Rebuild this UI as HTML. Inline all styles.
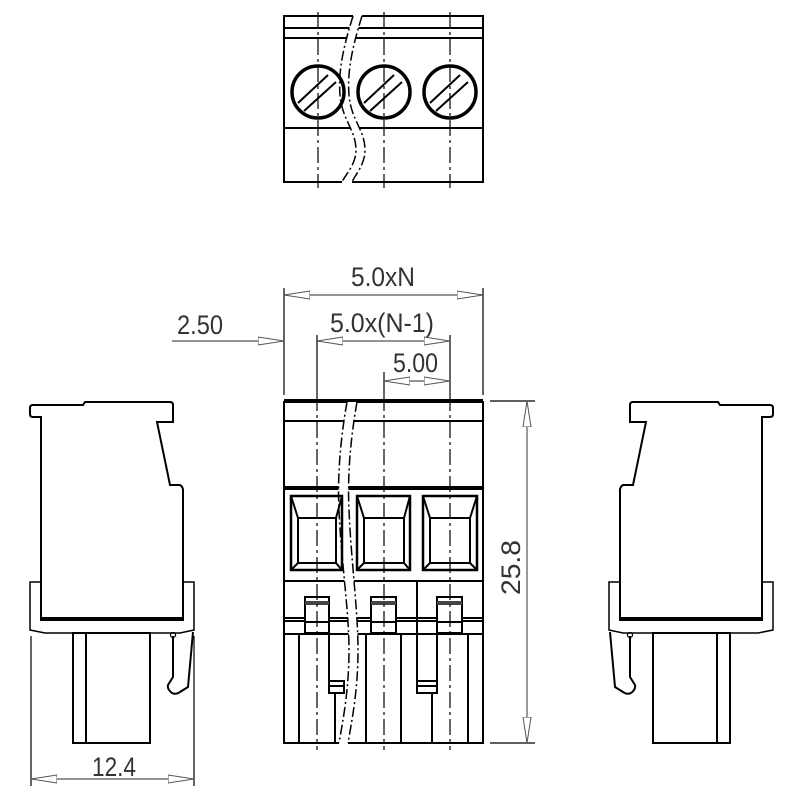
<!DOCTYPE html>
<html><head><meta charset="utf-8"><style>html,body{margin:0;padding:0;background:#fff}svg{display:block}</style></head>
<body>
<svg width="800" height="800" viewBox="0 0 800 800" xmlns="http://www.w3.org/2000/svg">
<defs>
<marker id="a" viewBox="0 0 26 10" refX="26" refY="5" markerWidth="26" markerHeight="10" markerUnits="userSpaceOnUse" orient="auto-start-reverse">
<path d="M0,1 L26,5 L0,9 Z" fill="#fff" stroke="#555" stroke-width="1"/>
</marker>
</defs>
<g fill="none" stroke="#000" stroke-linecap="butt">
<!-- TOP VIEW -->
<g stroke-width="2">
<path d="M353,16 L284,16 L284,182 L342,182"/>
<path d="M362,16 L483,16 L483,182 L352,182"/>
<line x1="284" y1="28" x2="483" y2="28"/>
<line x1="284" y1="38" x2="483" y2="38"/>
<line x1="284" y1="128" x2="483" y2="128"/>
</g>
<path d="M353,16 C344,45 338,70 340,95 C342,120 356,130 356,150 C356,165 345,175 342,182 L352,182 C355,175 365,165 365,150 C365,130 351,120 349,95 C347,70 353,45 362,16 Z" fill="#fff" stroke="none"/>
<g stroke-width="1.5" stroke-dasharray="10,3,2,3">
<path d="M353,16 C344,45 338,70 340,95 C342,120 356,130 356,150 C356,165 345,175 342,182"/>
<path d="M362,16 C353,45 347,70 349,95 C351,120 365,130 365,150 C365,165 355,175 352,182"/>
</g>
<g stroke-width="3.5">
<circle cx="318" cy="92" r="26"/><circle cx="384" cy="92" r="26"/><circle cx="450" cy="92" r="26"/>
</g>
<g stroke-width="2">
<line x1="298" y1="103" x2="328" y2="75"/><line x1="304" y1="111" x2="336" y2="82"/>
<line x1="364" y1="103" x2="394" y2="75"/><line x1="370" y1="111" x2="402" y2="82"/>
<line x1="430" y1="103" x2="460" y2="75"/><line x1="436" y1="111" x2="468" y2="82"/>
</g>
<g stroke-width="1.2" stroke-dasharray="16,4,3,4">
<line x1="318" y1="12" x2="318" y2="188"/><line x1="384" y1="12" x2="384" y2="188"/><line x1="450" y1="12" x2="450" y2="188"/>
</g>

<!-- FRONT VIEW -->
<g stroke-width="2">
<path d="M347,402 L284,402 L284,743 L339,743"/>
<path d="M357,402 L483,402 L483,743 L348,743"/>
<rect x="284" y="399" width="199" height="3" fill="#000" stroke="none"/>
<line x1="284" y1="421" x2="483" y2="421"/>
<rect x="284" y="486" width="199" height="4" fill="#000" stroke="none"/>
<line x1="284" y1="581" x2="483" y2="581"/>
<line x1="284" y1="634" x2="483" y2="634"/>
<path d="M284,618 L483,618 M284,621 L483,621"/>
</g>
<path d="M347,402 C342,430 337,470 339,510 C341,560 349,610 349,650 C349,690 343,720 339,743 L348,743 C352,720 358,690 358,650 C358,610 351,560 349,510 C347,470 352,430 357,402 Z" fill="#fff" stroke="none"/>
<g stroke-width="2">
<!-- windows -->
<rect x="291" y="496" width="51" height="74" stroke-width="2.5"/>
<rect x="298" y="518" width="38" height="45"/>
<path d="M291,496 L298,518 M342,496 L336,518 M291,570 L298,563 M342,570 L336,563"/>
<rect x="357" y="496" width="53" height="74" stroke-width="2.5"/>
<rect x="364" y="518" width="40" height="45"/>
<path d="M357,496 L364,518 M410,496 L404,518 M357,570 L364,563 M410,570 L404,563"/>
<rect x="423" y="496" width="54" height="74" stroke-width="2.5"/>
<rect x="430" y="518" width="40" height="45"/>
<path d="M423,496 L430,518 M477,496 L470,518 M423,570 L430,563 M477,570 L470,563"/>
<!-- latches -->
<rect x="305" y="597" width="24" height="36" fill="#fff"/>
<rect x="371" y="597" width="25" height="36" fill="#fff"/>
<rect x="437" y="597" width="25" height="36" fill="#fff"/>
<rect x="305" y="601" width="24" height="4" fill="#444" stroke="none"/>
<rect x="371" y="601" width="25" height="4" fill="#444" stroke="none"/>
<rect x="437" y="601" width="25" height="4" fill="#444" stroke="none"/>
<line x1="305" y1="622" x2="329" y2="622"/><line x1="371" y1="622" x2="396" y2="622"/><line x1="437" y1="622" x2="462" y2="622"/>
<line x1="417" y1="581" x2="417" y2="693"/>
<!-- bottom verticals -->
<line x1="299" y1="634" x2="299" y2="743"/>
<line x1="329" y1="634" x2="329" y2="693"/>
<rect x="329" y="681" width="15" height="12" fill="#fff"/>
<line x1="329" y1="686" x2="344" y2="686"/>
<line x1="335" y1="693" x2="335" y2="743"/>
<line x1="366" y1="634" x2="366" y2="743"/>
<line x1="401" y1="634" x2="401" y2="743"/>
<line x1="437" y1="634" x2="437" y2="681"/>
<rect x="417" y="681" width="20" height="12" fill="#fff"/>
<line x1="417" y1="686" x2="437" y2="686"/>
<line x1="432" y1="693" x2="432" y2="743"/>
<line x1="468" y1="634" x2="468" y2="743"/>
</g>
<g stroke-width="1.5" stroke-dasharray="10,3,2,3">
<path d="M347,402 C342,430 337,470 339,510 C341,560 349,610 349,650 C349,690 343,720 339,743"/>
<path d="M357,402 C352,430 347,470 349,510 C351,560 358,610 358,650 C358,690 352,720 348,743"/>
</g>
<g stroke-width="1.2" stroke-dasharray="16,4,3,4">
<line x1="317" y1="395" x2="317" y2="750"/><line x1="384" y1="395" x2="384" y2="750"/><line x1="450" y1="395" x2="450" y2="750"/>
</g>

<!-- DIMENSIONS -->
<g stroke="#000" stroke-width="1.2">
<line x1="284" y1="288" x2="284" y2="395"/>
<line x1="483" y1="288" x2="483" y2="395"/>
<line x1="317" y1="335" x2="317" y2="395"/>
<line x1="450" y1="335" x2="450" y2="395"/>
<line x1="384" y1="372" x2="384" y2="395"/>
<line x1="490" y1="401" x2="535" y2="401"/>
<line x1="490" y1="743" x2="535" y2="743"/>
<line x1="31" y1="636" x2="31" y2="786"/>
<line x1="194" y1="636" x2="194" y2="786"/>
</g>
<g stroke="#555" stroke-width="1.2">
<line x1="284" y1="295" x2="483" y2="295" marker-start="url(#a)" marker-end="url(#a)"/>
<line x1="172" y1="341" x2="284" y2="341" marker-end="url(#a)"/>
<line x1="317" y1="341" x2="450" y2="341" marker-start="url(#a)" marker-end="url(#a)"/>
<line x1="384" y1="381" x2="450" y2="381" marker-start="url(#a)" marker-end="url(#a)"/>
<line x1="527" y1="401" x2="527" y2="743" marker-start="url(#a)" marker-end="url(#a)"/>
<line x1="31" y1="779" x2="194" y2="779" marker-start="url(#a)" marker-end="url(#a)"/>
</g>

<!-- SIDE VIEW LEFT -->
<g id="side" stroke-width="2">
<path d="M41,620 L41,417 L33,417 Q30,417 30,414 L30,408 Q30,405 33,405 L83,405 L85,402 L170,402 Q173,402 173,405 L173,422 L157,422 L170,485 L180,485 Q183,487 183,490 L183,620 Z" fill="#fff"/>
<rect x="41" y="617" width="142" height="3" fill="#000" stroke="none"/>
<path d="M41,582 L30,582 L30,630 L45,633 L180,633 L194,630 L194,582 L183,582" stroke-width="1.5"/>
<rect x="73" y="633" width="77" height="110"/>
<line x1="86" y1="633" x2="86" y2="743"/>
<path d="M173,636 L173,677 L168,685 Q167,689 172,693 Q176,695 180,692 L188,687 L193,632"/>
<circle cx="173" cy="635" r="2.5" stroke-width="1.2"/>
</g>
<use href="#side" transform="translate(803,0) scale(-1,1)"/>
</g>

<g font-family="'Liberation Sans Narrow','Liberation Sans',sans-serif" font-size="27" fill="#333">
<text x="351" y="286" textLength="64" lengthAdjust="spacingAndGlyphs">5.0xN</text>
<text x="177" y="334" textLength="46" lengthAdjust="spacingAndGlyphs">2.50</text>
<text x="330" y="332" textLength="104" lengthAdjust="spacingAndGlyphs">5.0x(N-1)</text>
<text x="393" y="372" textLength="45" lengthAdjust="spacingAndGlyphs">5.00</text>
<text x="92" y="776" textLength="44" lengthAdjust="spacingAndGlyphs">12.4</text>
<text transform="translate(520,595) rotate(-90)" textLength="55" lengthAdjust="spacingAndGlyphs">25.8</text>
</g>
</svg>
</body></html>
